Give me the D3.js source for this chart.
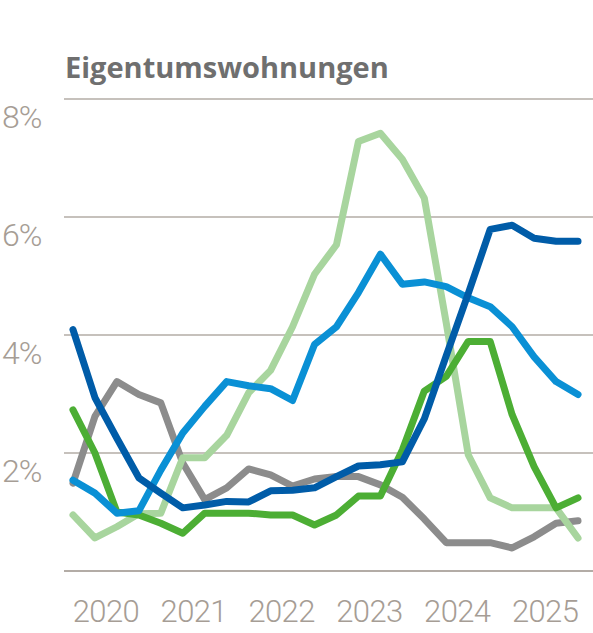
<!DOCTYPE html>
<html>
<head>
<meta charset="utf-8">
<script src="https://cdn.jsdelivr.net/npm/d3@7"></script>
<style>
  body { margin: 0; background: #fff; }
  svg { display: block; }
</style>
</head>
<body>
<div id="chart"></div>
<script>
// quarters 2020 Q1 .. 2025 Q4
const quarters = d3.range(24).map(i => 2020 + Math.floor(i / 4) + "Q" + (i % 4 + 1));
const yearLabels = ["2020", "2021", "2022", "2023", "2024", "2025"];
const yTicks = [2, 4, 6, 8];

// values in percent
const seriesGray = [1.49, 2.62, 3.21, 2.99, 2.85, 1.83, 1.21, 1.41, 1.73, 1.63, 1.44, 1.56,
                    1.6, 1.6, 1.46, 1.25, 0.88, 0.48, 0.48, 0.48, 0.39, 0.58, 0.81, 0.85];
const seriesLightGreen = [0.95, 0.56, 0.75, 0.97, 0.98, 1.92, 1.92, 2.3, 3.02, 3.4, 4.14, 5.03,
                          5.53, 7.28, 7.42, 6.98, 6.32, 4.2, 1.97, 1.24, 1.07, 1.07, 1.07, 0.56];
const seriesGreen = [2.73, 2.0, 1.0, 0.95, 0.81, 0.64, 0.98, 0.98, 0.98, 0.95, 0.95, 0.78,
                     0.95, 1.27, 1.27, 2.05, 3.05, 3.3, 3.89, 3.89, 2.65, 1.77, 1.07, 1.24];
const seriesLightBlue = [1.54, 1.32, 0.98, 1.02, 1.71, 2.34, 2.79, 3.21, 3.14, 3.09, 2.89, 3.84,
                         4.14, 4.72, 5.37, 4.86, 4.9, 4.82, 4.63, 4.48, 4.14, 3.63, 3.21, 2.99];
const seriesDarkBlue = [4.09, 2.94, 2.25, 1.58, 1.32, 1.07, 1.12, 1.18, 1.17, 1.36, 1.37, 1.41,
                        1.6, 1.78, 1.8, 1.85, 2.58, 3.65, 4.7, 5.79, 5.86, 5.64, 5.59, 5.59];

const series = [
    { values: seriesGray, color: "#8c8c8c" },
    { values: seriesLightGreen, color: "#a8d59e" },
    { values: seriesGreen, color: "#4cae34" },
    { values: seriesLightBlue, color: "#0a90d5" },
    { values: seriesDarkBlue, color: "#005ca8" }
];

let width = 593, height = 633;
let margin = { left: 64, right: 0 };

let svg = d3.select("#chart")
    .append("svg")
    .attr("width", width)
    .attr("height", height);

// x in years, each quarter plotted at its middle
const x = d3.scaleLinear()
    .domain([2020, 2026])
    .range([62, 589]);

const y = d3.scaleLinear()
    .domain([0, 8])
    .range([571, 99]);

// title
svg.append("text")
    .attr("x", 65)
    .attr("y", 78)
    .style("font-family", "'Open Sans', sans-serif")
    .style("font-weight", 700)
    .style("font-size", "29px")
    .style("fill", "#6f6f6f")
    .text("Eigentumswohnungen");

// grid lines incl. base line
svg.append("g")
    .selectAll("line")
    .data([0].concat(yTicks))
    .join("line")
    .attr("x1", margin.left)
    .attr("x2", width - margin.right)
    .attr("y1", d => y(d))
    .attr("y2", d => y(d))
    .attr("stroke", "#b3aca6")
    .attr("stroke-width", d => d === 0 ? 2 : 1.5);

// y labels sit under their line
svg.append("g")
    .selectAll("text")
    .data(yTicks)
    .join("text")
    .attr("x", 2)
    .attr("y", d => y(d) + 29)
    .style("font-family", "Roboto, sans-serif")
    .style("font-weight", 300)
    .style("font-size", "32px")
    .style("letter-spacing", "-1px")
    .style("fill", "#a69d95")
    .text(d => d + "%");

// year labels centered on each year
svg.append("g")
    .selectAll("text")
    .data(yearLabels)
    .join("text")
    .attr("x", d => x(+d + 0.5))
    .attr("y", 622)
    .attr("text-anchor", "middle")
    .style("font-family", "Roboto, sans-serif")
    .style("font-weight", 300)
    .style("font-size", "31px")
    .style("letter-spacing", "-0.6px")
    .style("fill", "#a69d95")
    .text(d => d);

const line = d3.line()
    .x((d, i) => x(2020 + (i + 0.5) / 4))
    .y(d => y(d));

svg.append("g")
    .selectAll("path")
    .data(series)
    .join("path")
    .attr("d", d => line(d.values))
    .attr("fill", "none")
    .attr("stroke", d => d.color)
    .attr("stroke-width", 7)
    .attr("stroke-linejoin", "round")
    .attr("stroke-linecap", "round");
</script>
</body>
</html>
